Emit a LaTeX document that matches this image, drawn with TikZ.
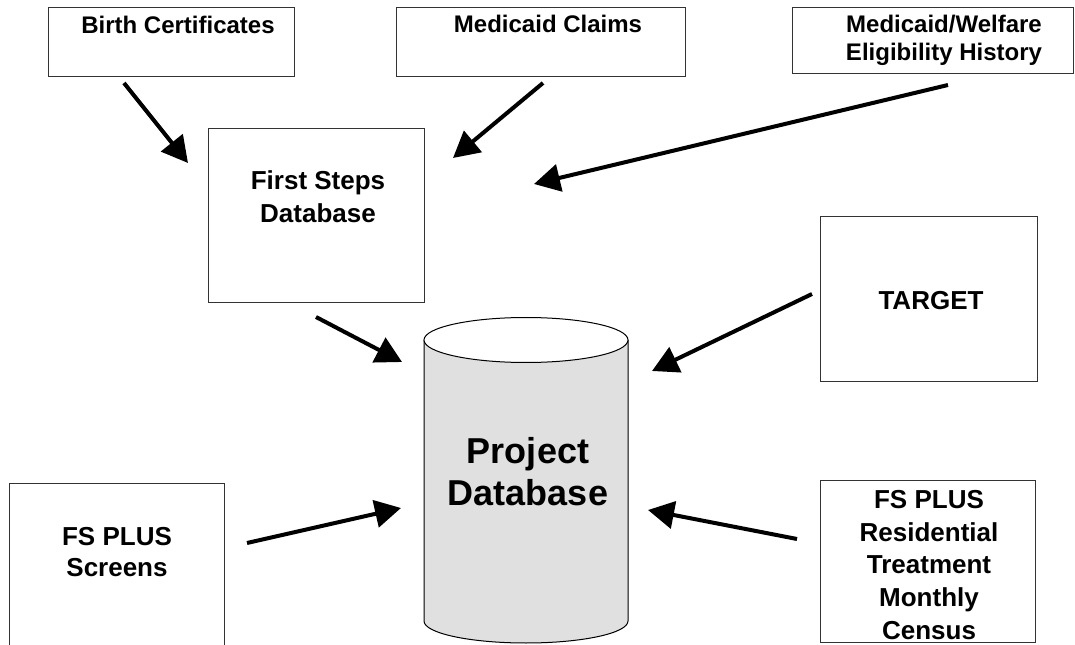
\documentclass[tikz,border=0pt]{standalone}
\usepackage{fontspec}
\setmainfont{Liberation Sans}
\usetikzlibrary{arrows.meta,fit}
\definecolor{dbgray}{HTML}{E0E0E0}
\tikzset{
  srcbox/.style={draw=black!80, line width=0.75pt, inner sep=0pt, fill=white},
  smalltxt/.style={align=center, inner sep=0pt, font=\fontsize{18pt}{21pt}\selectfont\bfseries},
  midtxt/.style={align=center, inner sep=0pt, font=\fontsize{19.5pt}{24pt}\selectfont\bfseries},
  bigtxt/.style={align=center, inner sep=0pt, font=\fontsize{27pt}{32pt}\selectfont\bfseries},
  flow/.style={line width=3pt, -{Triangle[length=19.5pt,width=20.5pt]}},
}
\begin{document}
\begin{tikzpicture}[x=0.75pt,y=-0.75pt]
\useasboundingbox (0,0) rectangle (1075,645);
\clip (0,0) rectangle (1075,645);

% source boxes
\node[srcbox, fit={(48,7.3) (294,76.7)}] (birth) {};
\node[srcbox, fit={(396,7.3) (685,76.7)}] (medc) {};
\node[srcbox, fit={(792,7.3) (1073,74)}] (mw) {};
\node[srcbox, fit={(208,129) (424.5,303)}] (fsdb) {};
\node[srcbox, fit={(820,217) (1037,382)}] (target) {};
\node[srcbox, fit={(9,483) (224.5,670)}] (screens) {};
\node[srcbox, fit={(820,480) (1035,642)}] (res) {};

% texts
\node[smalltxt] (birthT) at (178,25) {Birth Certificates};
\node[smalltxt] (medcT) at (548,24) {Medicaid Claims};
\node[smalltxt, font=\fontsize{18pt}{21pt}\selectfont\bfseries] (mwT) at (944,40.5) {Medicaid/Welfare\\Eligibility History};
\node[midtxt, font=\fontsize{19.5pt}{25pt}\selectfont\bfseries] (fsdbT) at (318,197) {First Steps\\Database};
\node[midtxt] (targetT) at (931,301) {TARGET};
\node[midtxt, font=\fontsize{19.5pt}{23pt}\selectfont\bfseries] (screensT) at (117,552) {FS PLUS\\Screens};
\node[midtxt, font=\fontsize{19.5pt}{24.6pt}\selectfont\bfseries] (resT) at (929,565) {FS PLUS\\Residential\\Treatment\\Monthly\\Census};

% project database cylinder
\fill[dbgray] (424,340) -- (424,621) arc[start angle=180, end angle=0, x radius=102, y radius=22] -- (628,340) -- cycle;
\draw[line width=0.75pt] (424,340) -- (424,621) arc[start angle=180, end angle=0, x radius=102, y radius=22] -- (628,340);
\draw[line width=0.75pt, fill=white] (526,340) ellipse[x radius=102, y radius=22.5];
\node[bigtxt] (db) at (528,471.5) {Project\\Database};

% connector end points
\coordinate (a1s) at (124,83);   \coordinate (a1e) at (188,163);
\coordinate (a2s) at (543,83);   \coordinate (a2e) at (453,158);
\coordinate (a3s) at (948,85);   \coordinate (a3e) at (534,184);
\coordinate (a4s) at (316,317);  \coordinate (a4e) at (402,362);
\coordinate (a5s) at (812,294);  \coordinate (a5e) at (652,371);
\coordinate (a6s) at (247,543);  \coordinate (a6e) at (401,508);
\coordinate (a7s) at (797,539);  \coordinate (a7e) at (648,510);

\draw[flow] (a1s) -- (a1e);
\draw[flow] (a2s) -- (a2e);
\draw[flow] (a3s) -- (a3e);
\draw[flow] (a4s) -- (a4e);
\draw[flow] (a5s) -- (a5e);
\draw[flow] (a6s) -- (a6e);
\draw[flow] (a7s) -- (a7e);
\end{tikzpicture}
\end{document}
